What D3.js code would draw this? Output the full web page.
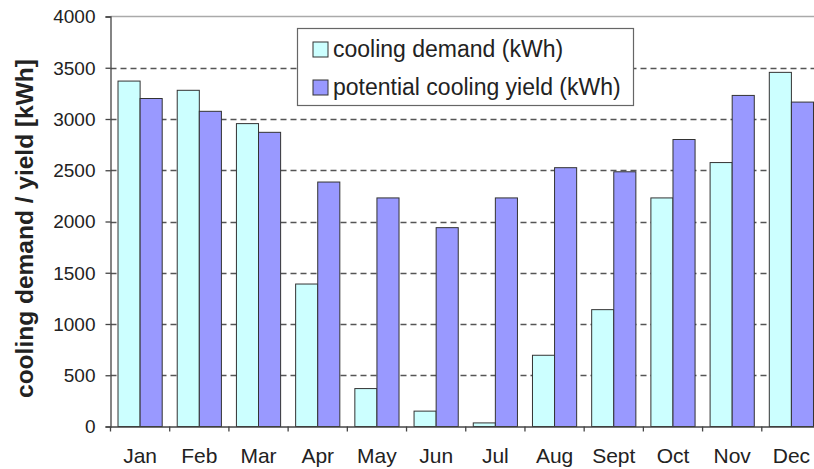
<!DOCTYPE html>
<html>
<head>
<meta charset="utf-8">
<script src="https://cdn.jsdelivr.net/npm/d3@7"></script>
<style>
  body { margin: 0; background: #fff; }
  text { font-family: "Liberation Sans", Arial, sans-serif; fill: #222; }
</style>
</head>
<body>
<script>
const months = ['Jan', 'Feb', 'Mar', 'Apr', 'May', 'Jun', 'Jul', 'Aug', 'Sept', 'Oct', 'Nov', 'Dec'];
const demand = [3370, 3280, 2955, 1390, 370, 150, 35, 695, 1140, 2230, 2575, 3455];
const yieldVals = [3200, 3075, 2870, 2385, 2230, 1940, 2230, 2525, 2485, 2800, 3230, 3165];
const yTicks = [0, 500, 1000, 1500, 2000, 2500, 3000, 3500, 4000];
const seriesNames = ['cooling demand (kWh)', 'potential cooling yield (kWh)'];
const seriesColors = ['#ccffff', '#9999ff'];

const w = 814, h = 469;
const pLeft = 110.5, pRight = 821, pTop = 16.5, pBottom = 426.5;

const svg = d3.select('body').append('svg')
  .attr('width', w)
  .attr('height', h)

const x = d3.scaleBand().domain(months).range([pLeft, pRight]).paddingInner(0).paddingOuter(0);
const x1 = d3.scaleBand().domain([0, 1]).range([0, x.bandwidth()]).paddingOuter(0.34).paddingInner(0);
const y = d3.scaleLinear().domain([0, 4000]).range([pBottom, pTop]);

// grid
svg.append('g')
   .selectAll('line')
   .data(yTicks.filter(t => t > 0 && t < 4000))
   .enter()
   .append('line')
   .attr('x1', pLeft).attr('x2', pRight)
   .attr('y1', d => Math.round(y(d)) + 0.5).attr('y2', d => Math.round(y(d)) + 0.5)
   .attr('stroke', '#555')
   .attr('stroke-width', 1.3)
   .attr('stroke-dasharray', '6,4')
svg.append('line')
   .attr('x1', pLeft).attr('x2', pRight)
   .attr('y1', y(4000)).attr('y2', y(4000))
   .attr('stroke', '#aaa')
   .attr('stroke-width', 1.5)

// bars
const groups = svg.append('g')
  .selectAll('g')
  .data(months)
  .enter()
  .append('g')
  .attr('transform', d => 'translate(' + x(d) + ',0)')
groups.selectAll('rect')
  .data((d, i) => [demand[i], yieldVals[i]])
  .enter()
  .append('rect')
  .attr('x', (d, j) => x1(j))
  .attr('width', x1.bandwidth())
  .attr('y', d => y(d))
  .attr('height', d => y(0) - y(d))
  .attr('fill', (d, j) => seriesColors[j])
  .attr('stroke', '#333')
  .attr('stroke-width', 1)

// axes
const yAxis = d3.axisLeft(y).tickValues(yTicks).tickFormat(d3.format('d')).tickSize(5).tickPadding(10);
const yg = svg.append('g').attr('transform', 'translate(' + pLeft + ',0)').call(yAxis)
yg.select('.domain').attr('stroke', '#444').attr('stroke-width', 1.3)
yg.selectAll('.tick line').attr('stroke', '#444').attr('stroke-width', 1.3)
yg.selectAll('text').style('font-size', '19px').attr('fill', '#222').attr('dy', '0.34em')

const xAxis = d3.axisBottom(x).tickSize(0).tickPadding(21.5);
const xg = svg.append('g').attr('transform', 'translate(0,' + pBottom + ')').call(xAxis)
xg.select('.domain').attr('stroke', '#444').attr('stroke-width', 1.3)
xg.selectAll('text').style('font-size', '21px').attr('fill', '#222')
xg.selectAll('.sep')
  .data(months)
  .enter()
  .append('line')
  .attr('class', 'sep')
  .attr('x1', d => x(d)).attr('x2', d => x(d))
  .attr('y1', 0).attr('y2', 5)
  .attr('stroke', '#444')
  .attr('stroke-width', 1.3)

svg.append('text')
   .attr('transform', 'translate(33,228.5) rotate(-90)')
   .attr('text-anchor', 'middle')
   .style('font-size', '24.5px')
   .style('font-weight', 'bold')
   .text('cooling demand / yield [kWh]')

// legend
const legend = svg.append('g').attr('transform', 'translate(297.5,28.5)')
legend.append('rect')
  .attr('width', 336).attr('height', 77)
  .attr('fill', '#fff')
  .attr('stroke', '#666')
  .attr('stroke-width', 1.2)
const items = legend.selectAll('.item')
  .data(seriesNames)
  .enter()
  .append('g')
  .attr('transform', (d, i) => 'translate(0,' + (i * 38) + ')')
items.append('rect')
  .attr('x', 15.5).attr('y', 13.5)
  .attr('width', 15).attr('height', 15)
  .attr('fill', (d, i) => seriesColors[i])
  .attr('stroke', '#333')
items.append('text')
  .attr('x', 35.5).attr('y', 28.5)
  .style('font-size', '23px')
  .text(d => d)
</script>
</body>
</html>
